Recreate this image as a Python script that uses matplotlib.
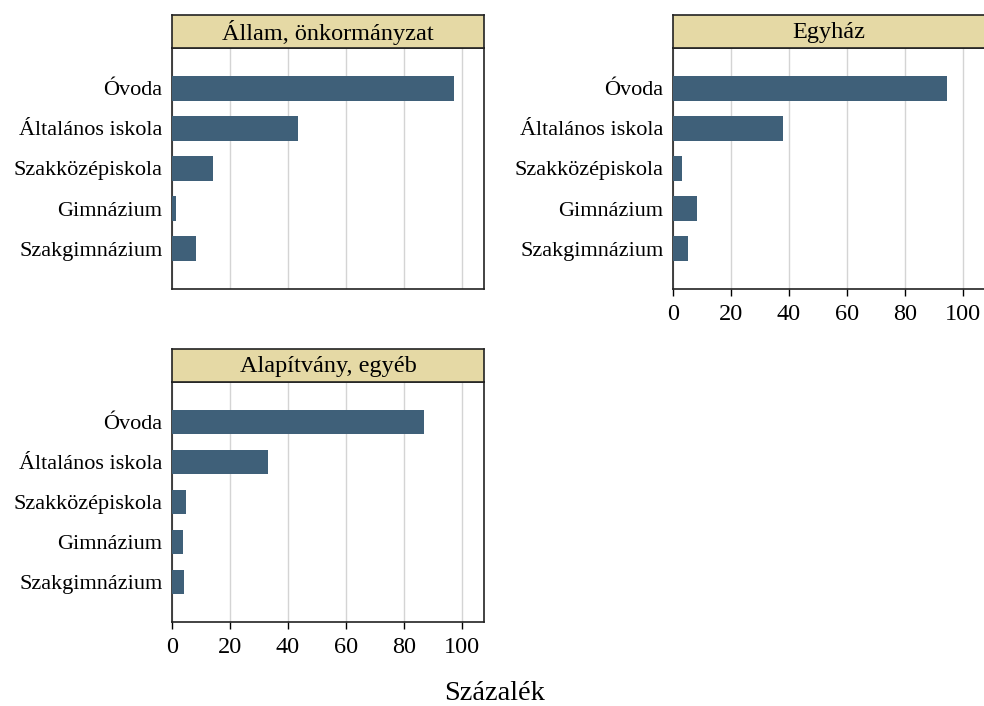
import numpy as np
import matplotlib
matplotlib.use('Agg')
import matplotlib.pyplot as plt

plt.rcParams['font.family'] = ['Liberation Serif', 'DejaVu Serif']

categories = ['Óvoda', 'Általános iskola', 'Szakközépiskola', 'Gimnázium', 'Szakgimnázium']
panels = ['Állam, önkormányzat', 'Egyház', 'Alapítvány, egyéb']
allam = [97.2, 43.3, 14.0, 1.3, 8.3]
egyhaz = [94.4, 37.9, 3.0, 8.2, 5.3]
alapitvany = [86.9, 33.0, 4.8, 3.7, 4.3]
xticks = [0, 20, 40, 60, 80, 100]

bar_color = '#3f6079'
strip_color = '#e5d9a5'

fig = plt.figure(figsize=(9.84, 7.06), dpi=100)
W, H = 984, 706

def px_axes(left, top, right, bottom):
    return fig.add_axes([left / W, 1 - bottom / H, (right - left) / W, (bottom - top) / H])

# (left, strip top, plot top, plot bottom, show x labels)
layout = [(172, 15, 48, 289, False),
          (673, 15, 48, 289, True),
          (172, 349, 382, 622, True)]
data = [allam, egyhaz, alapitvany]

ypos = np.arange(1, len(categories) + 1)

for (left, stop, ptop, pbot, show_x), title, vals in zip(layout, panels, data):
    right = left + 312
    ax = px_axes(left, ptop, right, pbot)
    ax.barh(ypos, vals, height=0.62, color=bar_color, zorder=3)
    ax.set_xlim(0, 107.6)
    ax.set_ylim(6, 0)
    ax.set_yticks(ypos)
    ax.set_yticklabels(categories, fontsize=16)
    ax.tick_params(axis='y', length=0, pad=7)
    ax.set_xticks(xticks)
    ax.grid(axis='x', color='#d4d4d4', linewidth=1, zorder=0)
    if show_x:
        ax.set_xticklabels([str(t) for t in xticks], fontsize=17.5)
        ax.tick_params(axis='x', length=5, width=1, pad=6)
    else:
        ax.tick_params(axis='x', length=0, labelbottom=False)
    for s in ax.spines.values():
        s.set_color('#222222')
        s.set_linewidth(1.2)

    sax = px_axes(left, stop, right, ptop)
    sax.set_facecolor(strip_color)
    sax.set_xticks([])
    sax.set_yticks([])
    for s in sax.spines.values():
        s.set_color('#222222')
        s.set_linewidth(1.2)
    sax.text(0.5, 0.47, title, ha='center', va='center', fontsize=17.5, transform=sax.transAxes)

fig.text(495 / W, 1 - 694 / H, 'Százalék', ha='center', va='center', fontsize=20.5)

fig.savefig('out.png', dpi=100)
